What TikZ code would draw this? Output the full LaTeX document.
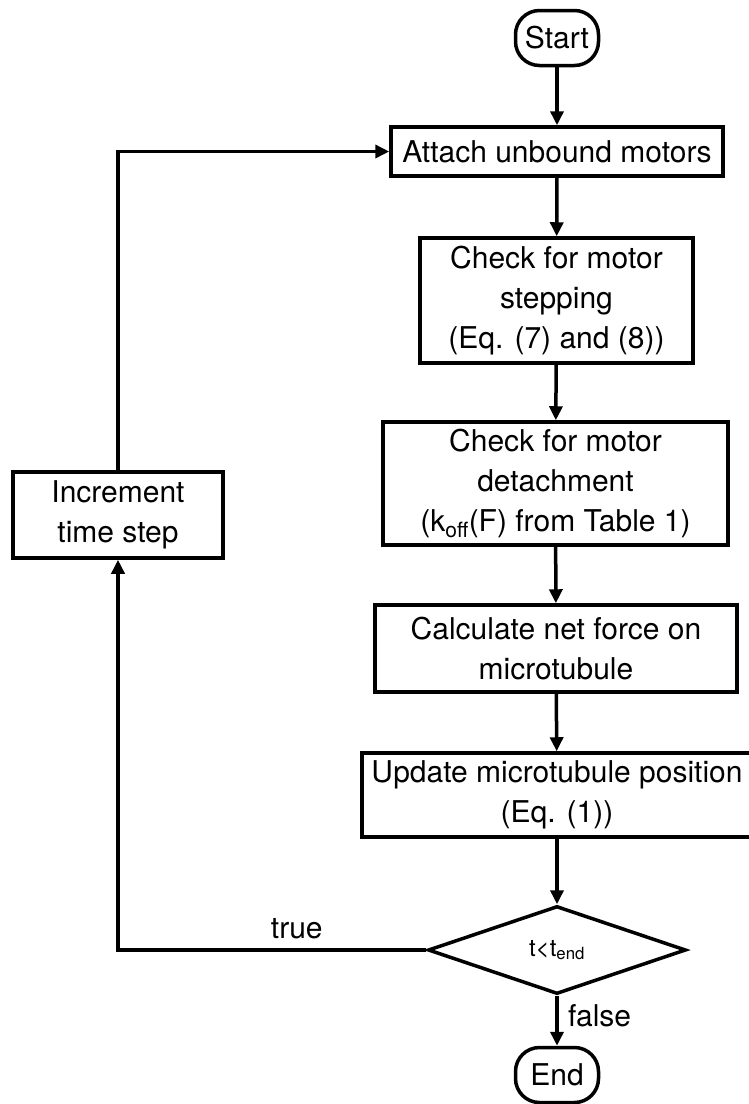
\documentclass[tikz,border=0pt]{standalone}
\usepackage{fontspec}
\setmainfont{TeX Gyre Heros}
\usetikzlibrary{shapes.geometric,arrows.meta}
\begin{document}
\begin{tikzpicture}[x=1pt,y=-1pt,
  every node/.style={font=\fontsize{30}{40}\selectfont},
  box/.style={draw,line width=3.5pt,align=center,inner sep=0pt},
  term/.style={draw,line width=3.5pt,rounded corners=24pt,minimum width=83pt,minimum height=55pt,inner sep=0pt},
  arr/.style={line width=3.5pt,-{Triangle[length=14pt,width=13pt]}},
  ln/.style={line width=3.5pt}]
\useasboundingbox (0,0) rectangle (748,1104);
\node[term] (start) at (557,38) {Start};
\node[box,minimum width=332pt,minimum height=49pt] (attach) at (557,151.5) {Attach unbound motors};
\node[box,minimum width=273pt,minimum height=125pt] (step) at (556.5,300.5) {Check for motor\\stepping\\(Eq. (7) and (8))};
\node[box,minimum width=345pt,minimum height=123pt] (detach) at (555.5,483.5) {Check for motor\\detachment\\(k\textsubscript{off}(F) from Table 1)};
\node[box,minimum width=362pt,minimum height=87pt] (calc) at (556,648.5) {Calculate net force on\\microtubule};
\node[box,minimum width=390pt,minimum height=84pt] (update) at (557,795) {Update microtubule position\\(Eq. (1))};
\node[draw,line width=3.5pt,shape=diamond,aspect=2.93,minimum width=258pt,minimum height=88pt,inner sep=0pt,font=\fontsize{24}{28}\selectfont] (dec) at (557,950) {t<t\textsubscript{end}};
\node[term] (end) at (557,1075) {End};
\node[box,minimum width=210pt,minimum height=86pt] (inc) at (118,515) {Increment\\time step};
\draw[arr] (start) -- (attach);
\draw[arr] (attach) -- (step);
\draw[arr] (step) -- (detach);
\draw[arr] (detach) -- (calc);
\draw[arr] (calc) -- (update);
\draw[arr] (update) -- (dec);
\draw[arr] (dec) -- node[right=6pt,pos=0.4]{false} (end);
\draw[arr] (dec.west) -| node[pos=0.21,above=6pt]{true} (inc.south);
\draw[arr] (inc.north) |- (attach.west);
\end{tikzpicture}
\end{document}
